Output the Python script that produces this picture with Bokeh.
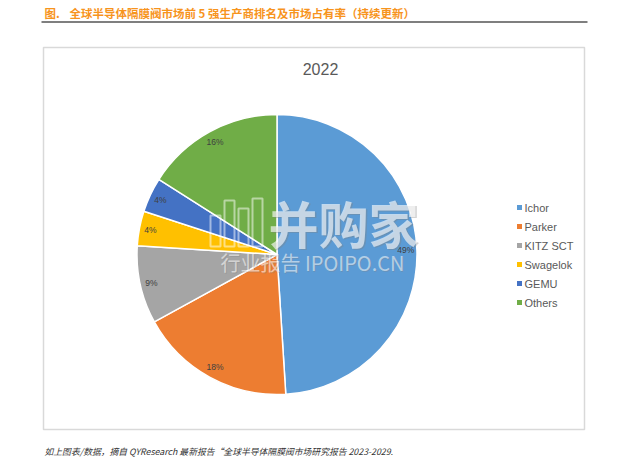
import math
from bokeh.plotting import figure
from bokeh.models import Range1d
from bokeh.core.properties import value
from bokeh.embed import file_html
from bokeh.resources import INLINE

# ---- data ----
companies = ["Ichor", "Parker", "KITZ SCT", "Swagelok", "GEMU", "Others"]
shares = [49, 18, 9, 4, 4, 16]
colors = ["#5B9BD5", "#ED7D31", "#A5A5A5", "#FFC000", "#4472C4", "#70AD47"]
chart_title = "2022"
fig_label = "图."
fig_title = "全球半导体隔膜阀市场前 5 强生产商排名及市场占有率（持续更新）"
footnote = "如上图表/数据，摘自 QYResearch 最新报告“全球半导体隔膜阀市场研究报告 2023-2029."

W, H = 627, 466
p = figure(width=W, height=H, output_backend="svg", toolbar_location=None,
           x_range=Range1d(0, W), y_range=Range1d(0, H), min_border=0,
           background_fill_color="white", border_fill_color="white")
p.axis.visible = False
p.grid.visible = False
p.outline_line_color = None


def X(px):
    return px


def Y(py):
    return H - py


# header title + rule
p.text(x=[X(44), X(69)], y=[Y(12.5)] * 2, text=[fig_label, fig_title],
       text_font=value("Noto Sans CJK SC"),
       text_font_style="bold", text_font_size="11.5px", text_color="#F7941D",
       text_baseline="middle", text_align="left")
p.segment(x0=[X(41)], y0=[Y(21.5)], x1=[X(587)], y1=[Y(21.5)], line_color="black", line_width=1.2)

# chart box
p.quad(left=[X(43)], right=[X(584)], top=[Y(47)], bottom=[Y(429)],
       fill_color="white", line_color="#D9D9D9", line_width=1.5)

# pie
cx, cy, r = X(276.5), Y(254), 140
total = sum(shares)
starts, ends, lx, ly, labels = [], [], [], [], []
cum = 0.0
for s in shares:
    f0 = cum / total
    f1 = (cum + s) / total
    starts.append(math.pi / 2 - f1 * 2 * math.pi)
    ends.append(math.pi / 2 - f0 * 2 * math.pi)
    mid = math.pi / 2 - (f0 + f1) / 2 * 2 * math.pi
    lx.append(cx + 0.92 * r * math.cos(mid))
    ly.append(cy + 0.92 * r * math.sin(mid))
    labels.append(f"{s}%")
    cum += s
p.wedge(x=cx, y=cy, radius=r, start_angle=starts, end_angle=ends,
        fill_color=colors, line_color="white", line_width=1.5)
p.text(x=lx, y=ly, text=labels, text_font=value("Liberation Sans"),
       text_font_size="8.5px", text_color="#404040", text_align="center", text_baseline="middle")

# chart title
p.text(x=[X(320)], y=[Y(68)], text=[chart_title], text_font=value("Liberation Sans"),
       text_font_size="16px", text_color="#595959", text_align="center", text_baseline="middle")

# legend
lgx = X(519)
lgy = [Y(207 + 19 * i) for i in range(len(companies))]
p.scatter(x=[lgx] * len(companies), y=lgy, marker="square", size=5, fill_color=colors, line_color=None)
p.text(x=[lgx + 5] * len(companies), y=lgy, text=companies, text_font=value("Liberation Sans"),
       text_font_size="11px", text_color="#595959", text_align="left", text_baseline="middle")

# watermark
p.text(x=[X(343)], y=[Y(221)], text=["并购家"], text_font=value("Noto Sans CJK SC"),
       text_font_style="bold", text_font_size="50px", text_color="#808080", text_alpha=0.35,
       text_align="center", text_baseline="middle", x_offset=1.5, y_offset=1.5)
p.text(x=[X(343)], y=[Y(221)], text=["并购家"], text_font=value("Noto Sans CJK SC"),
       text_font_style="bold", text_font_size="50px", text_color="white", text_alpha=0.62,
       text_align="center", text_baseline="middle")
p.text(x=[X(312)], y=[Y(262)], text=["行业报告 IPOIPO.CN"], text_font=value("Noto Sans CJK SC"),
       text_font_size="20px", text_color="#808080", text_alpha=0.3,
       text_align="center", text_baseline="middle", x_offset=1, y_offset=1)
p.text(x=[X(312)], y=[Y(262)], text=["行业报告 IPOIPO.CN"], text_font=value("Noto Sans CJK SC"),
       text_font_size="20px", text_color="white", text_alpha=0.55,
       text_align="center", text_baseline="middle")
# logo bars outline
p.quad(left=[X(210), X(224), X(238), X(252)], right=[X(220), X(234), X(248), X(262)],
       top=[Y(215), Y(200), Y(208), Y(198)], bottom=[Y(246)] * 4,
       fill_color=None, line_color="white", line_alpha=0.5, line_width=2)

# footnote
p.text(x=[X(44)], y=[Y(451)], text=[footnote], text_font=value("Noto Sans CJK SC"),
       text_font_style="italic", text_font_size="8.8px", text_color="#333333",
       text_align="left", text_baseline="middle")

open("out.html", "w").write(file_html(p, INLINE))
